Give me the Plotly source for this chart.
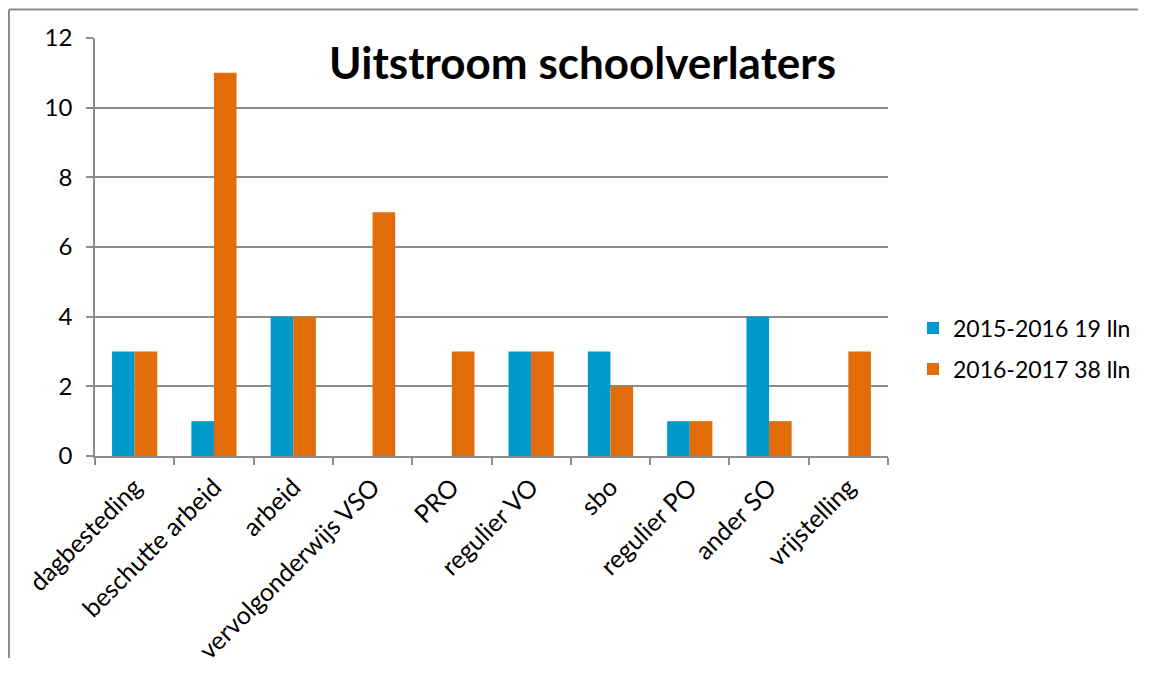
import plotly.graph_objects as go

categories = ["dagbesteding", "beschutte arbeid", "arbeid", "vervolgonderwijs VSO", "PRO",
              "regulier VO", "sbo", "regulier PO", "ander SO", "vrijstelling"]
s2015 = [3, 1, 4, 0, 0, 3, 3, 1, 4, 0]
s2016 = [3, 11, 4, 7, 3, 3, 2, 1, 1, 3]
name2015 = "2015-2016 19 lln"
name2016 = "2016-2017 38 lln"
title = "Uitstroom schoolverlaters"

# page body margin offset (8px) compensation; keep page smaller than viewport (no scrollbars)
OFF = 8
W, H = 1130, 650
L, R, T, B = 95 - OFF, 888 - OFF, 38 - OFF, 456 - OFF
pw, ph = R - L, B - T

def px(x):
    return (x - OFF - L) / pw

def py(y):
    return (B - (y - OFF)) / ph

font = "Lato, Open Sans, sans-serif"

fig = go.Figure()
fig.add_trace(go.Bar(x=categories, y=s2015, name=name2015, marker_color="#0099CC",
                     marker_line_width=0, legend="legend"))
fig.add_trace(go.Bar(x=categories, y=s2016, name=name2016, marker_color="#E36C0A",
                     marker_line_width=0, legend="legend2"))

leg_common = dict(xanchor="left", yanchor="middle", font=dict(size=23, family=font),
                  itemsizing="constant", bgcolor="rgba(0,0,0,0)", borderwidth=0)

border = dict(color="#8C8C8C", width=2)
fig.update_layout(
    width=W, height=H,
    margin=dict(l=L, r=W - R, t=T, b=H - B, autoexpand=False),
    paper_bgcolor="white", plot_bgcolor="white",
    barmode="group", bargap=0.43, bargroupgap=0,
    font=dict(family=font, size=24, color="#000000"),
    showlegend=True,
    legend=dict(x=px(913), y=py(328), **leg_common),
    legend2=dict(x=px(913), y=py(369), **leg_common),
    annotations=[dict(text="<b>" + title + "</b>", x=px(582), y=py(62), xref="paper", yref="paper",
                      showarrow=False, font=dict(size=44, family=font, color="#000000"),
                      xanchor="center", yanchor="middle")],
    shapes=[
        dict(type="line", xref="paper", yref="paper", x0=px(9), x1=px(9), y0=py(700), y1=py(9.5),
             line=border, layer="below"),
        dict(type="line", xref="paper", yref="paper", x0=px(9), x1=px(1200), y0=py(9.5), y1=py(9.5),
             line=border, layer="below"),
    ],
)
fig.update_yaxes(range=[0, 12], dtick=2, showgrid=True, gridcolor="#8C8C8C", gridwidth=1.5,
                 showline=True, linecolor="#8C8C8C", linewidth=1.5,
                 ticks="outside", ticklen=7, tickcolor="#8C8C8C", tickwidth=1.5,
                 ticklabelstandoff=9, zeroline=False, tickfont=dict(size=24))
fig.update_xaxes(showline=True, linecolor="#8C8C8C", linewidth=1.5,
                 ticks="outside", ticklen=7, tickcolor="#8C8C8C", tickwidth=1.5,
                 tickson="boundaries", tickangle=-45, tickfont=dict(size=25),
                 ticklabelstandoff=5)

fig.write_html("out.html")
